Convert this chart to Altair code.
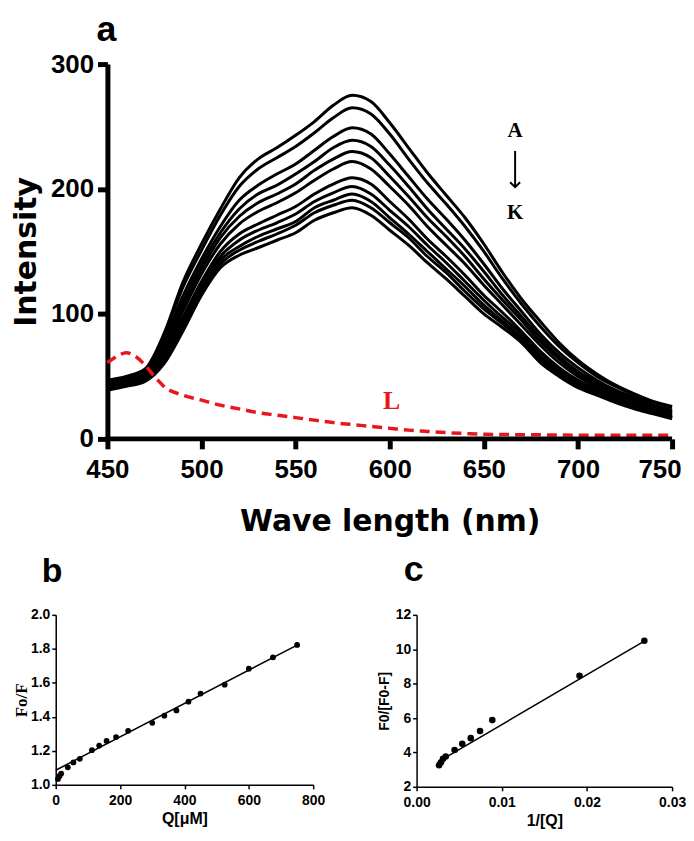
import altair as alt
import pandas as pd

# ---------------- panel a : emission spectra ----------------
wavelength = [450, 460, 470, 480, 490, 500, 510, 520, 530, 540, 550, 560, 570, 580, 590,
              600, 610, 620, 630, 640, 650, 660, 670, 680, 690, 700, 710, 720, 730, 740, 750]

curve_A = [47, 50, 56, 84, 125, 156, 184, 209, 224, 233, 243, 254, 267, 275, 270, 253, 233, 213, 195, 177, 156, 133, 112, 94, 77, 63, 52, 43, 36, 30, 26]
curve_B = [46, 49, 55, 82, 121, 151, 179, 202, 216, 225, 234, 245, 257, 265, 260, 244, 224, 205, 188, 170, 150, 128, 108, 90, 74, 61, 50, 42, 35, 29, 25]
curve_C = [45, 48, 53, 78, 114, 144, 170, 191, 203, 212, 220, 231, 242, 249, 244, 228, 210, 192, 176, 159, 140, 120, 102, 84, 69, 57, 47, 39, 33, 27, 23]
curve_D = [44, 47, 52, 75, 109, 140, 165, 184, 196, 203, 212, 222, 233, 239, 234, 219, 202, 184, 168, 152, 134, 115, 98, 81, 66, 54, 45, 37, 31, 26, 22]
curve_E = [43, 46, 51, 72, 106, 136, 161, 178, 189, 196, 204, 215, 224, 230, 225, 210, 194, 177, 162, 146, 128, 111, 95, 78, 64, 52, 44, 36, 30, 25, 21]
curve_F = [42, 45, 50, 70, 102, 132, 156, 172, 182, 189, 197, 207, 216, 222, 216, 202, 187, 170, 155, 140, 123, 107, 91, 75, 61, 50, 42, 35, 29, 24, 20]
curve_G = [41, 44, 49, 67, 97, 126, 150, 164, 172, 179, 186, 196, 204, 209, 204, 190, 176, 160, 146, 131, 115, 101, 86, 70, 57, 47, 40, 33, 27, 23, 19]
curve_H = [41, 44, 48, 65, 93, 123, 146, 159, 167, 173, 180, 190, 197, 202, 196, 183, 170, 155, 141, 126, 111, 97, 84, 67, 55, 45, 38, 32, 26, 22, 18]
curve_I = [40, 43, 47, 63, 91, 120, 143, 154, 162, 168, 174, 185, 191, 196, 190, 177, 164, 150, 136, 122, 107, 94, 81, 65, 53, 44, 37, 31, 25, 21, 17]
curve_J = [40, 43, 47, 62, 89, 118, 140, 151, 158, 164, 171, 181, 187, 191, 185, 173, 161, 146, 133, 118, 104, 92, 79, 63, 52, 43, 36, 30, 25, 21, 17]
curve_K = [39, 42, 46, 60, 86, 115, 137, 147, 153, 159, 165, 175, 181, 185, 179, 167, 155, 141, 128, 114, 100, 89, 77, 61, 50, 41, 35, 29, 24, 20, 16]

curve_names = ["A", "B", "C", "D", "E", "F", "G", "H", "I", "J", "K"]
curves = [curve_A, curve_B, curve_C, curve_D, curve_E, curve_F, curve_G, curve_H, curve_I, curve_J, curve_K]

ligand_wl = [450, 455, 460, 465, 470, 475, 480, 490, 500, 510, 520, 530, 540, 550, 560, 570,
             580, 590, 600, 610, 620, 630, 640, 650, 675, 700, 750]
ligand_int = [61, 66, 69, 66, 59, 50, 42, 35, 31, 27, 24, 21, 19, 17, 15, 13,
              11.5, 10, 8.5, 7, 6, 5, 4.3, 3.7, 3.3, 3, 3]

x_ticks_a = [450, 500, 550, 600, 650, 700, 750]
y_ticks_a = [0, 100, 200, 300]
x_axis_line = {"start": [450], "end": [750], "level": [0]}

label_text = ["A", "K"]
label_wl = [666.6, 666.6]
label_int = [246.6, 180.6]
arrow_wl = [666.6]
arrow_top = [230.5]
arrow_tip = [201.5]
ligand_label = ["L"]
ligand_label_wl = [601]
ligand_label_int = [30]

# ---------------- panel b : Stern-Volmer ----------------
q_um = [7, 12, 17, 37.5, 55, 75, 112.5, 135, 158, 187.5, 225, 300, 337.5, 375, 412.5, 450, 525, 600, 675, 750]
f0_over_f = [1.035, 1.052, 1.066, 1.103, 1.132, 1.153, 1.204, 1.231, 1.258, 1.281, 1.318, 1.365,
             1.407, 1.438, 1.489, 1.537, 1.589, 1.683, 1.750, 1.823]
fit_b_x = [0, 750]
fit_b_y = [1.086, 1.822]

# ---------------- panel c : modified Stern-Volmer ----------------
inv_q = [0.00264, 0.00287, 0.0031, 0.00342, 0.00446, 0.00536, 0.00636, 0.00745, 0.00889, 0.01913, 0.02674]
f0_over_df = [3.26, 3.43, 3.63, 3.76, 4.14, 4.50, 4.83, 5.25, 5.88, 8.46, 10.49]
fit_c_x = [0.00252, 0.02674]
fit_c_y = [3.45, 10.47]

# ---------------- data frames ----------------
rows = []
for name, vals in zip(curve_names, curves):
    for w, v in zip(wavelength, vals):
        rows.append({"curve": name, "wl": w, "intensity": v})
spectra_df = pd.DataFrame(rows)
ligand_df = pd.DataFrame({"wl": ligand_wl, "intensity": ligand_int})
labels_df = pd.DataFrame({"wl": label_wl, "intensity": label_int, "t": label_text})
arrow_df = pd.DataFrame({"wl": arrow_wl, "intensity": arrow_top, "intensity2": arrow_tip})
tip_df = pd.DataFrame({"wl": arrow_wl, "intensity": arrow_tip})
lig_lab_df = pd.DataFrame({"wl": ligand_label_wl, "intensity": ligand_label_int, "t": ligand_label})
xline_df = pd.DataFrame({"wl": x_axis_line["start"], "wl2": x_axis_line["end"], "intensity": x_axis_line["level"]})

b_df = pd.DataFrame({"q": q_um, "r": f0_over_f})
b_fit = pd.DataFrame({"q": fit_b_x, "r": fit_b_y})
c_df = pd.DataFrame({"q": inv_q, "r": f0_over_df})
c_fit = pd.DataFrame({"q": fit_c_x, "r": fit_c_y})

SANS = "Liberation Sans"
TITLE_SANS = "DejaVu Sans"
SERIF = "Liberation Serif"
RED = "#e8171d"

# panel a plot area starts 52 px left of its y axis so that panels b and a share
# the concat column origin; the x scale is widened on the left accordingly.
A_SHIFT = 52
A_AXIS_W = 568
A_W = A_AXIS_W + A_SHIFT
x_lo = 450 - A_SHIFT * 300 / A_AXIS_W

# ---------------- panel a ----------------
xa = alt.X("wl:Q",
           scale=alt.Scale(domain=[x_lo, 750], nice=False, zero=False),
           axis=alt.Axis(values=x_ticks_a, title="Wave length (nm)", grid=False, domain=False,
                         labelFont=SANS, labelFontWeight="bold", labelFontSize=26, labelColor="black",
                         labelPadding=8, labelFlush=False,
                         labelAlign=alt.condition("datum.value == 750", alt.value("right"), alt.value("center")),
                         labelOffset=alt.condition("datum.value == 750", alt.value(9), alt.value(0)),
                         tickSize=10, tickWidth=5, tickColor="black",
                         titleFont=TITLE_SANS, titleFontWeight="bold", titleFontSize=30,
                         titleColor="black", titlePadding=24, titleX=388 - A_SHIFT))
ya = alt.Y("intensity:Q",
           scale=alt.Scale(domain=[0, 300], nice=False),
           axis=alt.Axis(values=y_ticks_a, title="Intensity", grid=False, offset=-A_SHIFT,
                         labelFont=SANS, labelFontWeight="bold", labelFontSize=26, labelColor="black",
                         labelPadding=4, tickSize=10, tickWidth=5, tickColor="black",
                         domainWidth=5, domainColor="black",
                         titleFont=TITLE_SANS, titleFontWeight="bold", titleFontSize=30,
                         titleColor="black", titlePadding=9))

x_axis_rule = alt.Chart(xline_df).mark_rule(color="black", strokeWidth=5).encode(
    x=xa, x2=alt.X2("wl2:Q"), y=ya)
spectra = alt.Chart(spectra_df).mark_line(color="black", strokeWidth=3, interpolate="monotone").encode(
    x=xa, y=ya, detail="curve:N")
ligand = alt.Chart(ligand_df).mark_line(color=RED, strokeWidth=3.5, strokeDash=[10, 6],
                                        interpolate="monotone").encode(x=xa, y=ya)
ak_text = alt.Chart(labels_df).mark_text(font=SERIF, fontWeight="bold", fontSize=21, color="black",
                                         baseline="middle", align="center").encode(x=xa, y=ya, text="t:N")
arrow_shaft = alt.Chart(arrow_df).mark_rule(color="black", strokeWidth=2).encode(
    x=xa, y=ya, y2=alt.Y2("intensity2:Q"))
arrow_head = alt.Chart(tip_df).mark_point(shape="M -1 -1 L 0 0 L 1 -1", filled=False, color="black",
                                          strokeWidth=2, size=100, opacity=1).encode(x=xa, y=ya)
l_text = alt.Chart(lig_lab_df).mark_text(font=SERIF, fontWeight="bold", fontSize=26, color=RED,
                                         baseline="middle", align="center").encode(x=xa, y=ya, text="t:N")

panel_a = alt.layer(spectra, ligand, x_axis_rule, ak_text, arrow_shaft, arrow_head, l_text).properties(
    width=A_W, height=377,
    title=alt.TitleParams("a", anchor="start", frame="group", dx=41, offset=2,
                          font=SANS, fontWeight="bold", fontSize=36, color="black"))

# ---------------- panel b ----------------
def small_axis(title, values, fmt, title_font, title_size, title_pad, label_pad=2, label_size=14):
    return alt.Axis(values=values, format=fmt, title=title, grid=False,
                    labelFont=SANS, labelFontWeight="bold", labelFontSize=label_size, labelColor="black",
                    labelPadding=label_pad, labelFlush=False, tickSize=4, tickWidth=1.5, tickColor="black",
                    domainWidth=1.5, domainColor="black",
                    titleFont=title_font, titleFontWeight="bold", titleFontSize=title_size,
                    titleColor="black", titlePadding=title_pad)

xb = alt.X("q:Q", scale=alt.Scale(domain=[0, 800], nice=False),
           axis=small_axis("Q[μM]", [0, 200, 400, 600, 800], "d", SANS, 16, 3, label_pad=5))
yb = alt.Y("r:Q", scale=alt.Scale(domain=[1.0, 2.0], nice=False, zero=False),
           axis=small_axis("Fo/F", [1.0, 1.2, 1.4, 1.6, 1.8, 2.0], ".1f", SERIF, 17, 0))
b_points = alt.Chart(b_df).mark_circle(color="black", size=34, opacity=1).encode(x=xb, y=yb)
b_line = alt.Chart(b_fit).mark_line(color="black", strokeWidth=1.5).encode(x=xb, y=yb)
panel_b = alt.layer(b_line, b_points).properties(
    width=259, height=171,
    title=alt.TitleParams("b", anchor="start", frame="group", dx=-14, offset=19,
                          font=SANS, fontWeight="bold", fontSize=34, color="black"))

# ---------------- panel c ----------------
xc = alt.X("q:Q", scale=alt.Scale(domain=[0, 0.03], nice=False),
           axis=small_axis("1/[Q]", [0, 0.01, 0.02, 0.03], ".2f", SANS, 16, 3, label_pad=5))
yc = alt.Y("r:Q", scale=alt.Scale(domain=[2, 12], nice=False, zero=False),
           axis=small_axis("F0/[F0-F]", [2, 4, 6, 8, 10, 12], "d", SANS, 14, 4))
c_points = alt.Chart(c_df).mark_circle(color="black", size=44, opacity=1).encode(x=xc, y=yc)
c_line = alt.Chart(c_fit).mark_line(color="black", strokeWidth=1.5).encode(x=xc, y=yc)
panel_c = alt.layer(c_line, c_points).properties(
    width=257, height=173,
    title=alt.TitleParams("c", anchor="start", frame="group", dx=-13, offset=19,
                          font=SANS, fontWeight="bold", fontSize=36, color="black"))

chart = alt.vconcat(
    panel_a,
    alt.hconcat(panel_b, panel_c, spacing=52),
    spacing=16,
).properties(
    padding={"left": 3, "top": 2, "right": 0, "bottom": 0},
    background="white",
).configure_view(stroke=None)

chart.save("out.html", embed_options={"renderer": "svg", "actions": False})
